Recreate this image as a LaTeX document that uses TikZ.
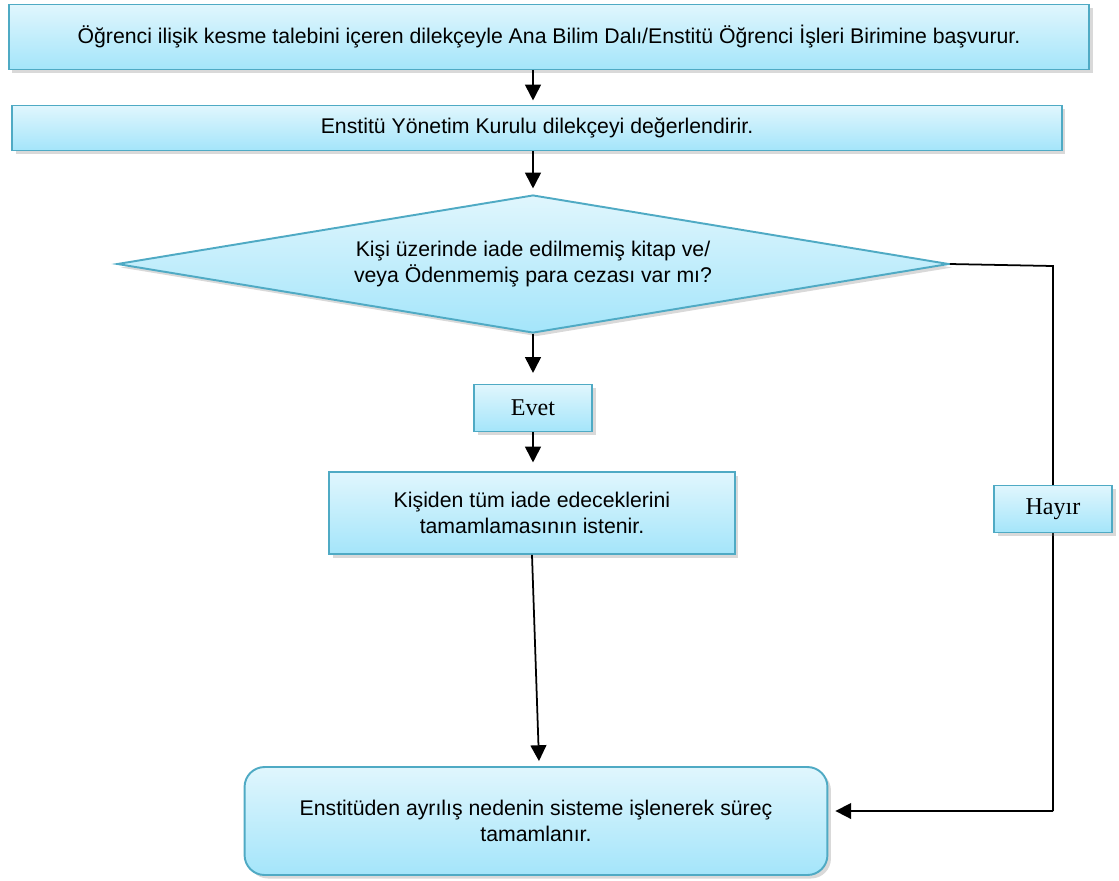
\documentclass[tikz,border=0pt]{standalone}
\usepackage{fontspec}
\setmainfont{Liberation Sans}
\newfontfamily\evetfont{Liberation Serif}
\usetikzlibrary{shapes.geometric}
\usetikzlibrary{arrows.meta}
\usetikzlibrary{shadows}
\definecolor{boxtop}{HTML}{E0F6FD}
\definecolor{boxbot}{HTML}{A4E5FA}
\definecolor{boxline}{HTML}{4FAAC4}
\newcommand{\textsz}{\fontsize{12.1}{15.2}\selectfont}
\newcommand{\evetsz}{\fontsize{13.7}{16}\selectfont\evetfont}
\tikzset{
  stepbox/.style={draw=boxline, line width=1.1pt, top color=boxtop,
    bottom color=boxbot, align=center, font=\textsz,
    drop shadow={shadow xshift=2pt, shadow yshift=-2pt, opacity=0.3}},
  decision/.style={stepbox, diamond, aspect=6, inner sep=0pt},
  answer/.style={stepbox, font=\evetsz, minimum width=2.36cm, minimum height=0.94cm},
  flow/.style={line width=1pt, -{Triangle[length=9pt, width=9pt]}},
  plain/.style={line width=1pt}
}

\begin{document}
\begin{tikzpicture}[x=0.02cm, y=-0.02cm]
  \useasboundingbox (0,0) rectangle (1119,880);
  % steps
  \node[stepbox, minimum width=21.62cm, minimum height=1.3cm] (basvuru) at (549,37)
    {Öğrenci ilişik kesme talebini içeren dilekçeyle Ana Bilim Dalı/Enstitü Öğrenci İşleri Birimine başvurur.};
  \node[stepbox, minimum width=21.0cm, minimum height=0.9cm] (kurul) at (537,128)
    {Enstitü Yönetim Kurulu dilekçeyi değerlendirir.};
  \node[decision, minimum width=16.64cm, minimum height=2.76cm] (ceza) at (533,264)
    {Kişi üzerinde iade edilmemiş kitap ve/\\veya Ödenmemiş para cezası var mı?};
  \node[answer] (evet) at (533,408) {Evet};
  \node[stepbox, minimum width=8.12cm, minimum height=1.64cm] (iade) at (532,513)
    {Kişiden tüm iade edeceklerini\\tamamlamasının istenir.};
  \node[stepbox, rounded corners=0.4cm, minimum width=11.66cm, minimum height=2.16cm] (son) at (536,821)
    {Enstitüden ayrılış nedenin sisteme işlenerek süreç\\tamamlanır.};
  % no branch
  \coordinate (sag) at (1053,266);
  \coordinate (alt) at (1053,811);
  \draw[plain] (ceza.east) -- (sag) -- (alt);
  \node[answer] (hayir) at (1053,509) {Hayır};
  % connectors
  \draw[flow] (basvuru.south -| ceza.north) -- ++(0,30);
  \draw[flow] (kurul.south -| ceza.north) -- ++(0,37);
  \draw[flow] (ceza.south) -- ++(0,39);
  \draw[flow] (evet.south) -- ++(0,30);
  \draw[flow] (iade.south) -- ([xshift=0.06cm, yshift=0.1cm]son.north);
  \draw[flow] (alt) -- ([xshift=0.14cm]son.east |- alt);
\end{tikzpicture}
\end{document}
